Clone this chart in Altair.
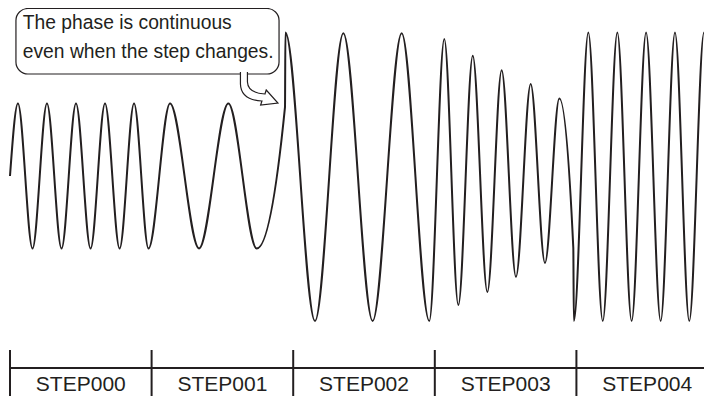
import altair as alt
import pandas as pd

INK = "#231f20"
FONT = "Liberation Sans"

# ---- step table (time axis: one step = 100 units) ----
step_names = ["STEP000", "STEP001", "STEP002", "STEP003", "STEP004"]
step_start = [0, 100, 200, 300, 400]
step_end = [100, 200, 300, 400, 500]

# ---- turning points of the output waveform ----
step000_t = [0, 5.6, 15.9, 26.1, 36.4, 46.6, 56.9, 67.1, 77.4, 87.6, 97.8]
step000_v = [0, 1.0, -1.0, 1.0, -1.0, 1.0, -1.0, 1.0, -1.0, 1.0, -1.0]
step001_t = [113.0, 133.5, 154.2, 174.2, 194.2]
step001_v = [1.0, -1.0, 1.0, -1.0, 0.95]
step002_t = [194.5, 215.4, 235.4, 256.1, 276.6, 296.1]
step002_v = [1.98, -2.0, 1.97, -2.0, 1.97, -2.0]
step003_t = [306.7, 316.6, 326.8, 337.1, 347.2, 357.3, 367.7, 377.8, 387.9, 397.8]
step003_v = [1.89, -1.78, 1.66, -1.60, 1.46, -1.39, 1.27, -1.20, 1.07, -0.99]
step004_t = [398.2, 408.4, 418.6, 428.9, 439.0, 449.2, 459.5, 469.6, 479.7, 490.1, 500.0]
step004_v = [-2.0, 1.98, -2.0, 1.98, -2.0, 1.98, -2.0, 1.98, -2.0, 1.98, -2.0]

# ---- callout ----
callout_text = "The phase is continuous\neven when the step changes."
callout_box = {"t0": 4.2, "t1": 190.0, "v0": 2.31, "v1": 1.407}
callout_text_pos = {"t": 9.0, "v": 2.03}
arrow_pos = {"t": 175.8, "v": 1.186}

# hollow curved arrow glyph (pixel units, relative to its anchor)
ARROW = ("M -11.5 -18 L -11.5 -8 Q -11 3 6 4 L 7.3 0 L 19 13 L 1.7 15 "
         "L 3 11 Q -18 10 -18.5 -6 L -18.5 -18")

W, H = 696, 390
xs = alt.Scale(domain=[-1.41, 490.1], nice=False, zero=False)
ys = alt.Scale(domain=[-3.062, 2.317], nice=False, zero=False)

parts = []
for name, ts, vs in [("STEP000", step000_t, step000_v), ("STEP001", step001_t, step001_v),
                     ("STEP002", step002_t, step002_v), ("STEP003", step003_t, step003_v),
                     ("STEP004", step004_t, step004_v)]:
    parts.append(pd.DataFrame({"t": ts, "v": vs, "step": name}))
wave_df = pd.concat(parts, ignore_index=True)

steps_df = pd.DataFrame({"name": step_names, "start": step_start, "end": step_end})

wave = alt.Chart(wave_df).mark_line(
    interpolate="monotone", color=INK, strokeWidth=2, clip=True
).encode(
    x=alt.X("t:Q", scale=xs, axis=None),
    y=alt.Y("v:Q", scale=ys, axis=None),
    order=alt.Order("t:Q"),
)

ticks = alt.Chart(steps_df).mark_rule(color=INK, strokeWidth=2).encode(
    x=alt.X("start:Q", scale=xs, axis=None),
    y=alt.value(342),
    y2=alt.value(388),
)

baseline = alt.Chart(steps_df.head(1)).mark_rule(color=INK, strokeWidth=2).encode(
    x=alt.X("start:Q", scale=xs, axis=None),
    x2=alt.value(W),
    y=alt.value(360),
)

labels = alt.Chart(steps_df).transform_calculate(
    mid="(datum.start + datum.end) / 2"
).mark_text(
    font=FONT, fontSize=21, color=INK, align="center", baseline="alphabetic"
).encode(
    x=alt.X("mid:Q", scale=xs, axis=None),
    y=alt.value(383),
    text="name:N",
)

box = alt.Chart(pd.DataFrame([callout_box])).mark_rect(
    cornerRadius=12, fill="white", stroke=INK, strokeWidth=1.2
).encode(
    x=alt.X("t0:Q", scale=xs, axis=None),
    x2="t1:Q",
    y=alt.Y("v0:Q", scale=ys, axis=None),
    y2="v1:Q",
)

arrow = alt.Chart(pd.DataFrame([arrow_pos])).mark_point(
    shape=ARROW, size=4, filled=True, fill="white", fillOpacity=1,
    stroke=INK, strokeWidth=1.2, strokeOpacity=1, opacity=1
).encode(
    x=alt.X("t:Q", scale=xs, axis=None),
    y=alt.Y("v:Q", scale=ys, axis=None),
)

note = alt.Chart(pd.DataFrame([dict(callout_text_pos, text=callout_text)])).mark_text(
    font=FONT, fontSize=19.3, color=INK, align="left", baseline="alphabetic",
    lineBreak="\n", lineHeight=29
).encode(
    x=alt.X("t:Q", scale=xs, axis=None),
    y=alt.Y("v:Q", scale=ys, axis=None),
    text="text:N",
)

chart = alt.layer(wave, ticks, baseline, labels, box, arrow, note).properties(
    width=W, height=H, padding=0,
    autosize=alt.AutoSizeParams(type="none"),
).configure_view(stroke=None)

chart.save("out.html", embed_options={"renderer": "svg", "actions": False})
